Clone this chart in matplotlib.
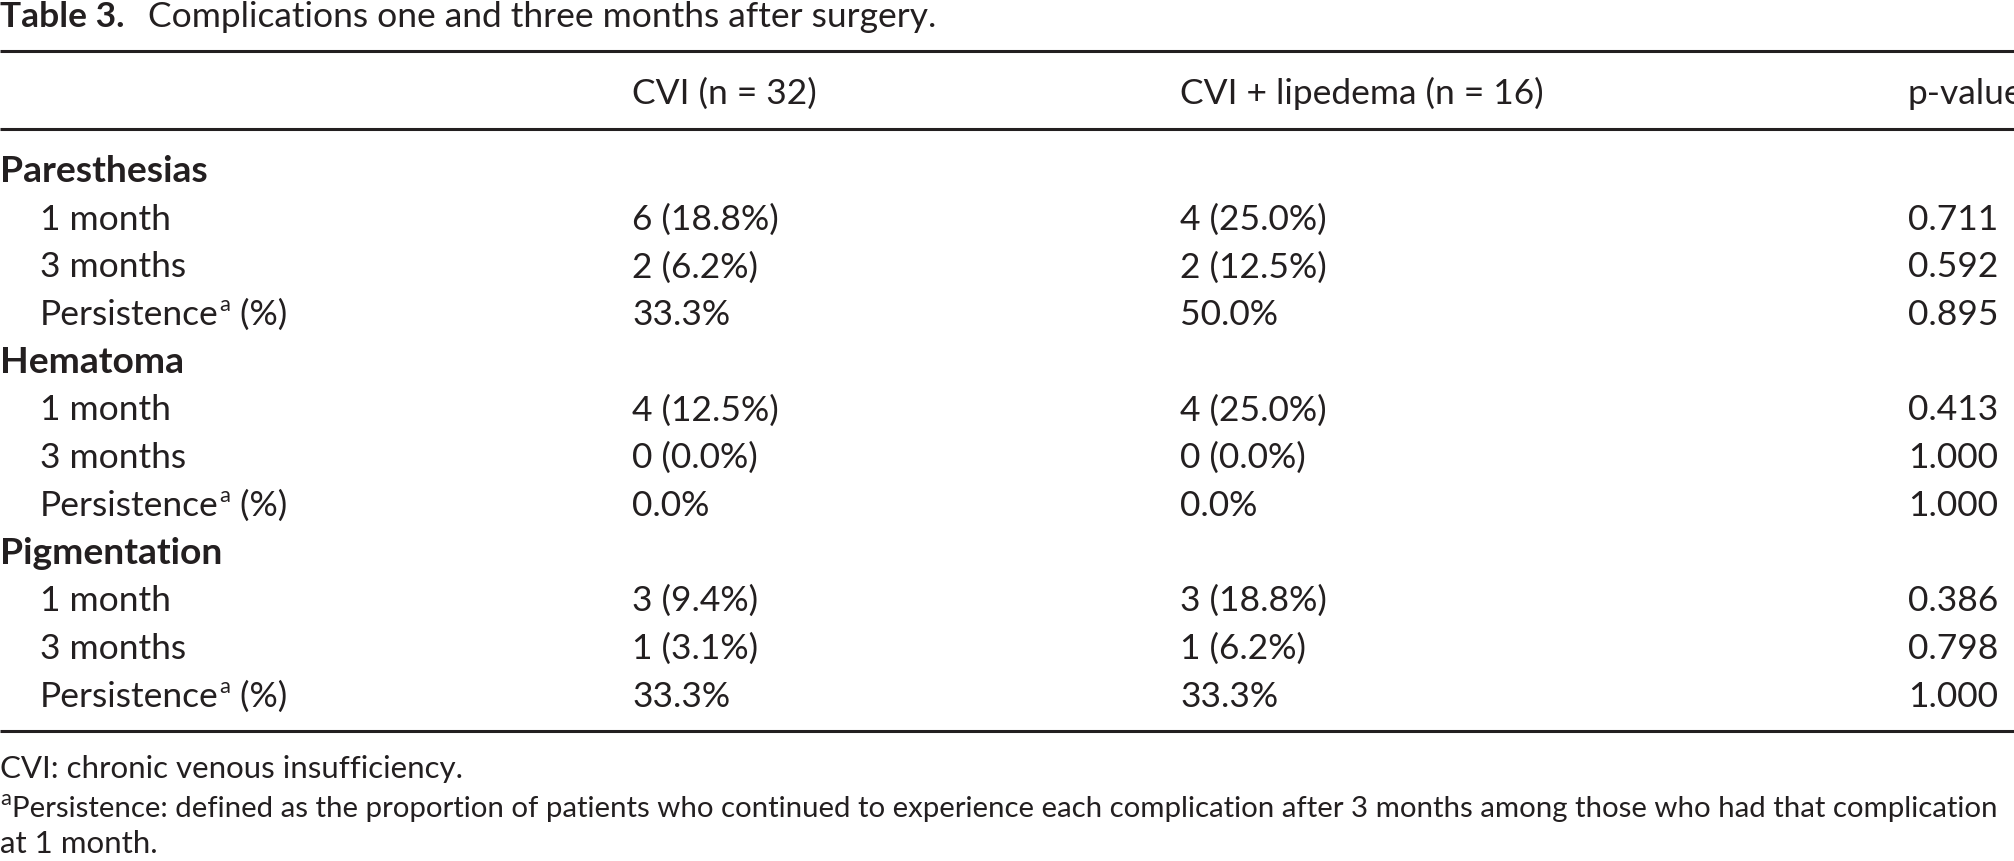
import matplotlib
matplotlib.use("Agg")
import matplotlib.pyplot as plt

# ── DATA ──────────────────────────────────────────────────────────────────────
title_bold = "Table 3."
title_rest = "Complications one and three months after surgery."
col_headers = ["CVI (n = 32)", "CVI + lipedema (n = 16)", "p-value"]
groups = ["Paresthesias", "Hematoma", "Pigmentation"]
sub_labels = ["1 month", "3 months", "Persistence"]
cvi_vals = [["6 (18.8%)", "2 (6.2%)", "33.3%"],
            ["4 (12.5%)", "0 (0.0%)", "0.0%"],
            ["3 (9.4%)", "1 (3.1%)", "33.3%"]]
lip_vals = [["4 (25.0%)", "2 (12.5%)", "50.0%"],
            ["4 (25.0%)", "0 (0.0%)", "0.0%"],
            ["3 (18.8%)", "1 (6.2%)", "33.3%"]]
p_vals = [["0.711", "0.592", "0.895"],
          ["0.413", "1.000", "1.000"],
          ["0.386", "0.798", "1.000"]]
foot_1 = "CVI: chronic venous insufficiency."
foot_2 = ("Persistence: defined as the proportion of patients who continued to experience "
          "each complication after 3 months among those who had that complication")
foot_3 = "at 1 month."

# ── STYLE ─────────────────────────────────────────────────────────────────────
W, H, DPI = 2014, 862, 100
FONT = ["Lato", "DejaVu Sans"]
INK = "#231f20"
BODY = 25.5
GROUP = 26.8
TITLE = 25.5
FOOT = 22.5

COL_X = [0, 632, 1180, 1908]
INDENT = 40
ROW0 = 182
ROW_STEP = 47.7

fig = plt.figure(figsize=(W / DPI, H / DPI), dpi=DPI, facecolor="white")
ax = fig.add_axes([0, 0, 1, 1])
ax.set_xlim(0, W)
ax.set_ylim(H, 0)
ax.axis("off")
renderer = fig.canvas.get_renderer()


def put(x, y, s, size, weight="normal", **kw):
    return ax.text(x, y, s, fontsize=size, fontweight=weight, family=FONT,
                   color=INK, va="baseline", ha="left", **kw)


def width(t):
    return t.get_window_extent(renderer).width


def put_sup(x, y, before, sup, after, size):
    t = put(x, y, before, size)
    x2 = x + width(t) + 1
    s = put(x2, y - size * 0.55, sup, size * 0.62)
    put(x2 + width(s), y, after, size)


# ── TITLE ─────────────────────────────────────────────────────────────────────
tb = put(0, 27, title_bold, TITLE, weight="bold")
put(width(tb) + 24, 27, title_rest, TITLE)

# ── RULES ─────────────────────────────────────────────────────────────────────
for yr in [52, 130, 732]:
    ax.plot([0, W], [yr, yr], color=INK, linewidth=2.2, solid_capstyle="butt")

# ── HEADER ────────────────────────────────────────────────────────────────────
for x, h in zip(COL_X[1:], col_headers):
    put(x, 104, h, BODY)

# ── BODY ──────────────────────────────────────────────────────────────────────
row = 0
for g, grp in enumerate(groups):
    y = ROW0 + row * ROW_STEP
    put(COL_X[0], y, grp, GROUP, weight="bold")
    row += 1
    for i, lab in enumerate(sub_labels):
        y = ROW0 + row * ROW_STEP
        if lab == "Persistence":
            put_sup(INDENT, y, lab, "a", " (%)", BODY)
        else:
            put(INDENT, y, lab, BODY)
        put(COL_X[1], y, cvi_vals[g][i], BODY)
        put(COL_X[2], y, lip_vals[g][i], BODY)
        put(COL_X[3], y, p_vals[g][i], BODY)
        row += 1

# ── FOOTNOTES ─────────────────────────────────────────────────────────────────
put(0, 778, foot_1, FOOT)
# shrink the long footnote line until it fits the page width
sa = put(0, 817 - FOOT * 0.55, "a", FOOT * 0.7)
x0 = width(sa) + 1
fs = FOOT
while True:
    probe = put(0, -100, foot_2, fs)
    wpx = width(probe)
    probe.remove()
    if x0 + wpx <= 2009 or fs < 12:
        break
    fs -= 0.1
put(x0, 817, foot_2, fs)
put(0, 853, foot_3, FOOT)

fig.savefig("out.png", dpi=DPI, facecolor="white")
